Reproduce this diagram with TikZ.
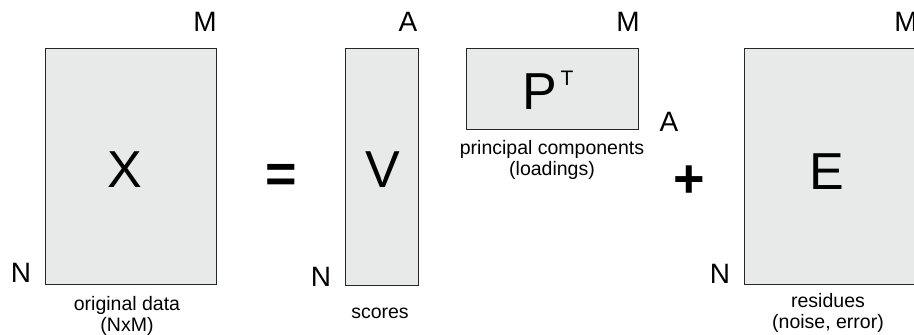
\documentclass[tikz,border=0pt]{standalone}
\usepackage{fontspec}
\setmainfont{Liberation Sans}
\begin{document}
\begin{tikzpicture}[x=1pt,y=-1pt,
  matbox/.style={draw=black!85, line width=0.9pt,
    fill={rgb,255:red,232;green,233;blue,233}, inner sep=0pt},
  bigletter/.style={font=\fontsize{52}{60}\selectfont, inner sep=0pt},
  supletter/.style={font=\fontsize{21}{24}\selectfont, inner sep=0pt},
  dimlabel/.style={font=\fontsize{28}{32}\selectfont, inner sep=0pt},
  caption/.style={font=\fontsize{19.5}{21}\selectfont, align=center, inner sep=0pt},
  operator/.style={font=\fontsize{54}{60}\selectfont\bfseries, inner sep=0pt}]
  \useasboundingbox (0,0) rectangle (914,335);
  \clip (0,0) rectangle (914,335);

  % data matrix X (N x M)
  \node[matbox, minimum width=171pt, minimum height=236pt] (xbox) at (130.5,166) {};
  \node[bigletter] (xlet) at (125,170) {X};
  \node[dimlabel] (xm) at (205,22) {M};
  \node[dimlabel] (xn) at (21,273) {N};
  \node[caption] (xcap) at (127,316) {original data\\(NxM)};

  \node[operator] (eq) at (281,178) {=};

  % scores V (N x A)
  \node[matbox, minimum width=73pt, minimum height=237pt] (vbox) at (381.5,166.5) {};
  \node[bigletter] (vlet) at (383,170) {V};
  \node[dimlabel] (va) at (408,22) {A};
  \node[dimlabel] (vn) at (321,277) {N};
  \node[caption] (vcap) at (380,313) {scores};

  % loadings P^T (A x M)
  \node[matbox, minimum width=172pt, minimum height=81pt] (pbox) at (552,88.5) {};
  \node[bigletter] (plet) at (540,92) {P};
  \node[supletter] (tlet) at (567,78) {T};
  \node[dimlabel] (pm) at (628,22) {M};
  \node[dimlabel] (pa) at (669,122) {A};
  \node[caption] (pcap) at (552,160) {principal components\\(loadings)};

  \node[operator] (plus) at (689,182) {+};

  % residuals E (N x M)
  \node[matbox, minimum width=180pt, minimum height=236pt] (ebox) at (834,166) {};
  \node[bigletter] (elet) at (827,172) {E};
  \node[dimlabel] (em) at (906,22) {M};
  \node[dimlabel] (en) at (720,274) {N};
  \node[caption] (ecap) at (828,313) {residues\\(noise, error)};
\end{tikzpicture}
\end{document}
